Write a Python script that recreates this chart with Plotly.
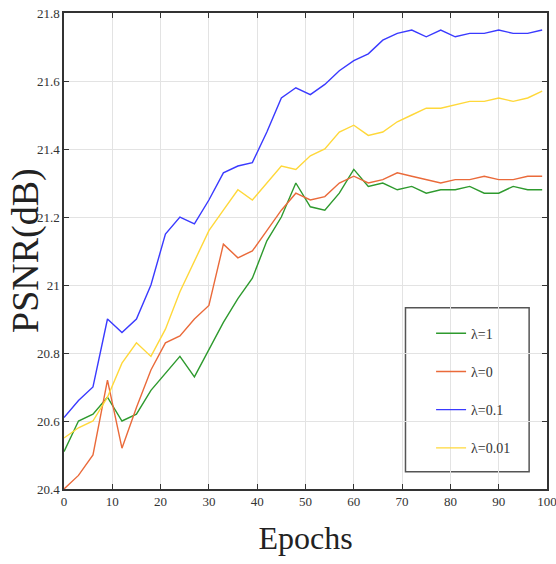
import plotly.graph_objects as go

epochs = list(range(0, 100, 3))

psnr_l1 = [20.51, 20.60, 20.62, 20.67, 20.60, 20.62, 20.69, 20.74, 20.79, 20.73,
           20.81, 20.89, 20.96, 21.02, 21.13, 21.20, 21.30, 21.23, 21.22, 21.27,
           21.34, 21.29, 21.30, 21.28, 21.29, 21.27, 21.28, 21.28, 21.29, 21.27,
           21.27, 21.29, 21.28, 21.28]
psnr_l0 = [20.40, 20.44, 20.50, 20.72, 20.52, 20.64, 20.75, 20.83, 20.85, 20.90,
           20.94, 21.12, 21.08, 21.10, 21.16, 21.22, 21.27, 21.25, 21.26, 21.30,
           21.32, 21.30, 21.31, 21.33, 21.32, 21.31, 21.30, 21.31, 21.31, 21.32,
           21.31, 21.31, 21.32, 21.32]
psnr_l01 = [20.61, 20.66, 20.70, 20.90, 20.86, 20.90, 21.00, 21.15, 21.20, 21.18,
            21.25, 21.33, 21.35, 21.36, 21.45, 21.55, 21.58, 21.56, 21.59, 21.63,
            21.66, 21.68, 21.72, 21.74, 21.75, 21.73, 21.75, 21.73, 21.74, 21.74,
            21.75, 21.74, 21.74, 21.75]
psnr_l001 = [20.55, 20.58, 20.60, 20.67, 20.77, 20.83, 20.79, 20.87, 20.98, 21.07,
             21.16, 21.22, 21.28, 21.25, 21.30, 21.35, 21.34, 21.38, 21.40, 21.45,
             21.47, 21.44, 21.45, 21.48, 21.50, 21.52, 21.52, 21.53, 21.54, 21.54,
             21.55, 21.54, 21.55, 21.57]

series_names = ["λ=1", "λ=0", "λ=0.1", "λ=0.01"]
series_values = [psnr_l1, psnr_l0, psnr_l01, psnr_l001]
colors = ["#2e9a2e", "#ea6a3a", "#3a3aff", "#ffd83a"]

x_ticks = [0, 10, 20, 30, 40, 50, 60, 70, 80, 90, 100]
y_ticks = [20.4, 20.6, 20.8, 21.0, 21.2, 21.4, 21.6, 21.8]

serif = "Liberation Serif"

fig = go.Figure()
for i, (name, vals, col) in enumerate(zip(series_names, series_values, colors)):
    fig.add_trace(go.Scatter(x=epochs, y=vals, mode="lines", name=name,
                             legendgroup=f"g{i}",
                             line=dict(color=col, width=1.4)))

axis_common = dict(showline=True, linecolor="#333333", linewidth=1.5, mirror="ticks",
                   ticks="inside", ticklen=5, tickcolor="#333333", automargin=False,
                   ticklabeloverflow="allow",
                   showgrid=True, gridcolor="#e3e3e3", gridwidth=1, zeroline=False,
                   tickfont=dict(family=serif, size=13, color="#333333"))

fig.update_layout(
    width=556, height=564,
    margin=dict(l=64, r=9, t=13, b=75),
    paper_bgcolor="white", plot_bgcolor="white",
    xaxis=dict(range=[0, 100], tickvals=x_ticks,
               title=dict(text="Epochs", font=dict(family=serif, size=32, color="#222222"), standoff=18),
               **axis_common),
    yaxis=dict(range=[20.4, 21.8], tickvals=y_ticks, **axis_common),
    legend=dict(x=0.76, y=0.36, xanchor="left", yanchor="top",
                bgcolor="rgba(0,0,0,0)", borderwidth=0,
                tracegroupgap=17,
                font=dict(family=serif, size=14, color="#333333")),
    showlegend=True,
)

fig.add_annotation(text="PSNR(dB)", xref="paper", yref="paper", x=0, y=0.5,
                   xanchor="center", yanchor="middle", xshift=-39, textangle=-90,
                   showarrow=False, font=dict(family=serif, size=38, color="#222222"))

fig.add_shape(type="rect", xref="paper", yref="paper",
              x0=0.707, x1=0.963, y0=0.036, y1=0.381,
              line=dict(color="#555555", width=1.5), fillcolor="rgba(255,255,255,1)",
              layer="below")

fig.write_html("out.html", config={"displayModeBar": False},
               post_script="document.body.style.margin='0';document.body.style.overflow='hidden';")
